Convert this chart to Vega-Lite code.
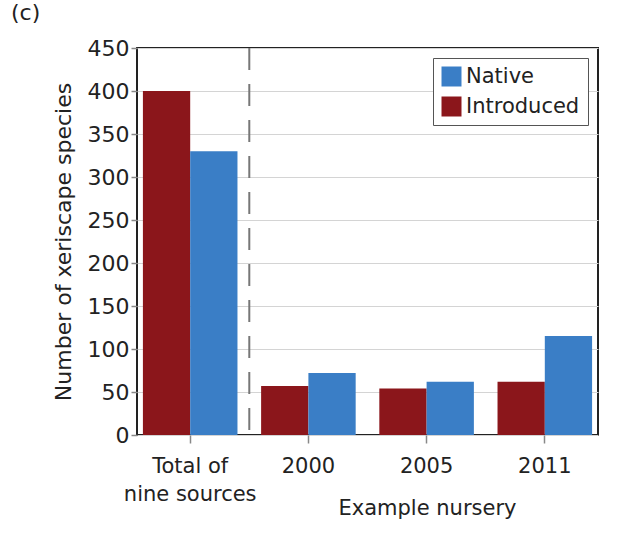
{
  "$schema": "https://vega.github.io/schema/vega-lite/v6.json",
  "autosize": {"type": "none"},
  "width": 461,
  "height": 387,
  "padding": {"left": 137, "top": 48, "right": 46, "bottom": 111},
  "background": "white",
  "config": {
    "font": "DejaVu Sans",
    "view": {"stroke": "#222", "strokeWidth": 2},
    "axis": {"labelFont": "DejaVu Sans", "titleFont": "DejaVu Sans", "labelColor": "#222", "titleColor": "#222", "titleFontWeight": "normal", "domain": false, "tickColor": "#888", "tickWidth": 1.5}
  },
  "title": {"text": "(c)", "anchor": "start", "frame": "group", "dx": -126, "offset": 12, "fontSize": 22, "fontWeight": "normal", "color": "#222"},
  "data": {
    "values": [
      {"group": "Total", "source": "Introduced", "count": 400},
      {"group": "Total", "source": "Native", "count": 330},
      {"group": "2000", "source": "Introduced", "count": 57},
      {"group": "2000", "source": "Native", "count": 72},
      {"group": "2005", "source": "Introduced", "count": 54},
      {"group": "2005", "source": "Native", "count": 62},
      {"group": "2011", "source": "Introduced", "count": 62},
      {"group": "2011", "source": "Native", "count": 115}
    ]
  },
  "layer": [
    {
      "mark": {"type": "bar"},
      "encoding": {
        "x": {
          "field": "group", "type": "nominal",
          "scale": {"domain": ["Total", "2000", "2005", "2011"], "paddingInner": 0.2, "paddingOuter": 0.05},
          "axis": {
            "title": "Example nursery", "titleFontSize": 21, "titleX": 290, "titleY": 62,
            "labelFontSize": 21, "labelAngle": 0, "labelPadding": 12, "tickSize": 8,
            "labelExpr": "datum.value == 'Total' ? ['Total of', 'nine sources'] : datum.value",
            "labelLineHeight": 28
          }
        },
        "xOffset": {"field": "source", "sort": ["Introduced", "Native"]},
        "y": {
          "field": "count", "type": "quantitative",
          "scale": {"domain": [0, 450]},
          "axis": {"title": "Number of xeriscape species", "titleFontSize": 22, "titlePadding": 12, "labelFontSize": 22, "values": [0,50,100,150,200,250,300,350,400,450], "tickSize": 6, "gridColor": "#d4d4d4"}
        },
        "color": {
          "field": "source", "type": "nominal",
          "scale": {"domain": ["Native", "Introduced"], "range": ["#3a7ec6", "#8b161b"]},
          "legend": {
            "title": null, "orient": "top-right", "offset": 10, "labelFontSize": 21, "labelColor": "#222",
            "symbolType": "square", "symbolSize": 400, "symbolStrokeWidth": 0, "rowPadding": 8,
            "strokeColor": "#555", "padding": 8, "fillColor": "white"
          }
        }
      }
    },
    {
      "data": {"values": [{"group": "2000"}]},
      "mark": {"type": "rule", "strokeDash": [22, 14], "color": "#777", "strokeWidth": 2},
      "encoding": {
        "x": {"field": "group", "type": "nominal", "bandPosition": -0.125}
      }
    }
  ]
}
